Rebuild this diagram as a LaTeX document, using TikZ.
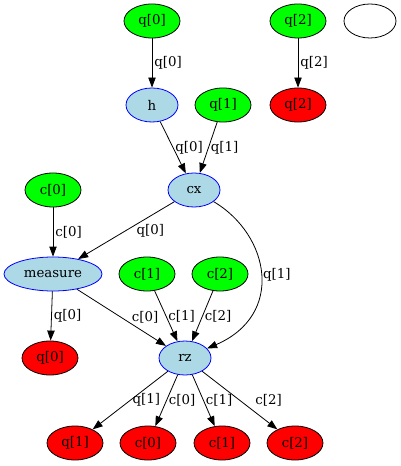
\documentclass[tikz,border=0pt]{standalone}
\usepackage{fontspec}
\setmainfont{DejaVu Serif}
\usetikzlibrary{arrows.meta, shapes.geometric}
\definecolor{gvgreen}{RGB}{0,255,0}
\definecolor{gvred}{RGB}{255,0,0}
\definecolor{gvblue}{RGB}{173,216,230}
\definecolor{gvborder}{RGB}{0,0,255}

\begin{document}
\begin{tikzpicture}[x=0.75pt, y=-0.75pt,
    every node/.style={font=\fontsize{10}{12}\selectfont},
    blob/.style={ellipse, draw=black, line width=0.6pt, inner sep=0pt,
        minimum width=42pt, minimum height=25.5pt},
    input/.style={blob, fill=gvgreen},
    output/.style={blob, fill=gvred},
    gate/.style={blob, fill=gvblue, draw=gvborder, minimum width=39pt},
    wire/.style={line width=0.6pt, -{Triangle[length=7.5pt, width=5.5pt]}},
    lbl/.style={right, inner sep=1.5pt}]

\useasboundingbox (0,0) rectangle (400,466);

% === top row ===
\node[input] (q0in) at (152,21) {q[0]};
\node[input] (q2in) at (298,21) {q[2]};
\node[blob, minimum width=39pt] (blank) at (370,21) {};

% === gates ===
\node[gate] (h) at (152,105) {h};
\node[input] (q1in) at (223,105) {q[1]};
\node[output] (q2out) at (298,105) {q[2]};
\node[gate] (cx) at (194,190) {cx};
\node[input] (c0in) at (53,190) {c[0]};
\node[gate, minimum width=73.5pt] (measure) at (53,274) {measure};
\node[input] (c1in) at (147,274) {c[1]};
\node[input] (c2in) at (220,274) {c[2]};
\node[output] (q0out) at (50,358) {q[0]};
\node[gate] (rz) at (185,358) {rz};

% === outputs ===
\node[output] (q1out) at (75,443) {q[1]};
\node[output] (c0out) at (148,443) {c[0]};
\node[output] (c1out) at (222,443) {c[1]};
\node[output] (c2out) at (295,443) {c[2]};

% === wires ===
\draw[wire] (q0in) -- node[lbl] {q[0]} (h);
\draw[wire] (q2in) -- node[lbl] {q[2]} (q2out);
\draw[wire] (h) -- node[lbl] {q[0]} (cx);
\draw[wire] (q1in) -- node[lbl] {q[1]} (cx);
\draw[wire] (c0in) -- node[lbl] {c[0]} (measure);
\draw[wire] (cx) -- node[lbl, xshift=6pt] {q[0]} (measure);
\draw[wire] (cx) .. controls (270,235) and (285,315) .. node[lbl] {q[1]} (rz);
\draw[wire] (measure) -- node[lbl] {q[0]} (q0out);
\draw[wire] (measure) -- node[lbl, xshift=6pt] {c[0]} (rz);
\draw[wire] (c1in) -- node[lbl] {c[1]} (rz);
\draw[wire] (c2in) -- node[lbl] {c[2]} (rz);
\draw[wire] (rz) -- node[lbl] {q[1]} (q1out);
\draw[wire] (rz) -- node[lbl] {c[0]} (c0out);
\draw[wire] (rz) -- node[lbl] {c[1]} (c1out);
\draw[wire] (rz) -- node[lbl, xshift=10pt] {c[2]} (c2out);

\end{tikzpicture}
\end{document}
